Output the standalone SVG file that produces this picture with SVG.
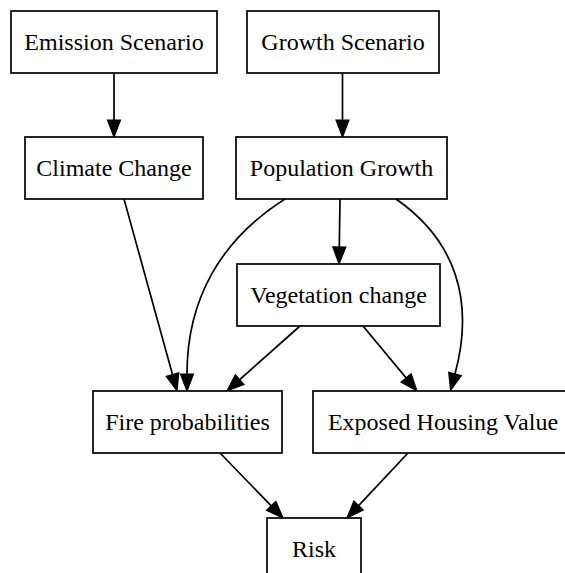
<svg xmlns="http://www.w3.org/2000/svg" width="565" height="573" viewBox="0 0 565 573">
<style>
.node rect{fill:#fff;stroke:#000;stroke-width:1.7}
.node text{font-family:"Liberation Serif","Times New Roman",serif;font-size:24px;fill:#000;text-anchor:middle}
.edges path{fill:none;stroke:#000;stroke-width:1.7;marker-end:url(#ah)}
</style>
<defs>
<marker id="ah" markerUnits="userSpaceOnUse" markerWidth="18" markerHeight="14" refX="0" refY="6.5" orient="auto" overflow="visible">
<path d="M0,0 L17,6.5 L0,13 z" fill="#000" stroke="#000" stroke-width="1.2"/>
</marker>
</defs>
<rect width="565" height="573" fill="#fff"/>
<g class="edges" id="edges">
<path d="M114,73 L114,120"/>
<path d="M342.5,73 L342.5,120"/>
<path d="M124,199 L172.5,374.6"/>
<path d="M285,199 C220,240 187,300 187,374"/>
<path d="M340,199 L339.3,247"/>
<path d="M396,199 C455,240 475,300 455,374"/>
<path d="M300,326 L239.7,379.7"/>
<path d="M363,326 L406.1,377.9"/>
<path d="M220,453 L271.2,505.8"/>
<path d="M408,453 L358.6,505.6"/>
</g>
<g class="node" id="emission"><rect x="11" y="11" width="206" height="62"/><text x="114" y="50">Emission Scenario</text></g>
<g class="node" id="growth"><rect x="247" y="11" width="192" height="62"/><text x="343" y="50">Growth Scenario</text></g>
<g class="node" id="climate"><rect x="25" y="137" width="178" height="62"/><text x="114" y="176">Climate Change</text></g>
<g class="node" id="population"><rect x="236" y="137" width="211" height="62"/><text x="341.5" y="176">Population Growth</text></g>
<g class="node" id="vegetation"><rect x="237" y="264" width="203" height="62"/><text x="338.5" y="303">Vegetation change</text></g>
<g class="node" id="fire"><rect x="93" y="391" width="189" height="62"/><text x="187.5" y="430">Fire probabilities</text></g>
<g class="node" id="exposed"><rect x="313" y="391" width="260" height="62"/><text x="443" y="430">Exposed Housing Value</text></g>
<g class="node" id="risk"><rect x="267" y="518" width="94" height="62"/><text x="314" y="557">Risk</text></g>
</svg>
